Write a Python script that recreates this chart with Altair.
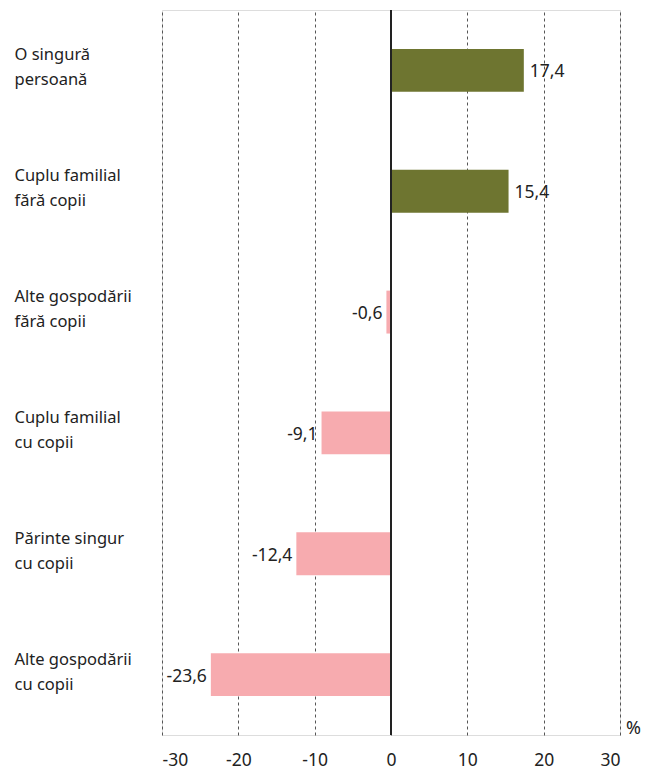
import altair as alt
import pandas as pd

categories = [
    "O singură\npersoană",
    "Cuplu familial\nfără copii",
    "Alte gospodării\nfără copii",
    "Cuplu familial\ncu copii",
    "Părinte singur\ncu copii",
    "Alte gospodării\ncu copii",
]
values = [17.4, 15.4, -0.6, -9.1, -12.4, -23.6]
x_ticks = [-30, -20, -10, 0, 10, 20, 30]

df = pd.DataFrame({"cat": categories, "val": values})
df["lbl"] = df["val"].map(lambda v: f"{v:.1f}".replace(".", ","))
df["sign"] = ["pos" if v >= 0 else "neg" for v in values]

FONT = "Noto Sans"
TXT = "#222222"

x_scale = alt.Scale(domain=[-30, 30], nice=False, zero=False)
y_scale = alt.Scale(paddingInner=0.645, paddingOuter=0.3225)

base = alt.Chart(df)

bars = base.mark_bar().encode(
    x=alt.X("val:Q", scale=x_scale,
            axis=alt.Axis(values=x_ticks, grid=True, gridDash=[3, 3], gridColor="#555555",
                          gridWidth=1, ticks=False, domain=False, labelFontSize=17.5,
                          labelPadding=16, labelFont=FONT, labelColor=TXT,
                          labelExpr="datum.value + ''",
                          title="%", titleFont=FONT, titleFontSize=18, titleFontWeight="normal",
                          titleColor=TXT, titleX=471, titleY=-2, titleBaseline="alphabetic",
                          titleAlign="center")),
    y=alt.Y("cat:N", sort=categories, scale=y_scale, title=None,
            axis=alt.Axis(ticks=False, domain=False, grid=False, labelAlign="left",
                          labelPadding=148, labelOffset=-15,
                          labelFontSize=16.5, labelFont=FONT, labelColor=TXT,
                          labelLineHeight=25, labelBaseline="middle",
                          labelExpr="split(datum.label, '\\n')", labelLimit=200)),
    color=alt.Color("sign:N", scale=alt.Scale(domain=["pos", "neg"], range=["#6e7530", "#f7abaf"]),
                    legend=None),
)

zero = base.mark_rule(color=TXT, strokeWidth=2).encode(x=alt.datum(0))

pos_text = base.transform_filter("datum.val >= 0").mark_text(
    align="left", dx=6, fontSize=17.5, font=FONT, color=TXT, dy=2
).encode(x="val:Q", y=alt.Y("cat:N", sort=categories), text="lbl:N")

neg_text = base.transform_filter("datum.val < 0").mark_text(
    align="right", dx=-4, fontSize=17.5, font=FONT, color=TXT, dy=2
).encode(x="val:Q", y=alt.Y("cat:N", sort=categories), text="lbl:N")

chart = (
    alt.layer(bars, zero, pos_text, neg_text)
    .properties(width=458, height=725,
                autosize=alt.AutoSizeParams(type="none"),
                padding={"left": 154, "top": 2, "right": 22, "bottom": 38})
    .configure_view(stroke=None)
    .configure(background="white")
)

chart.save("out.html", embed_options={"renderer": "svg", "actions": False})
